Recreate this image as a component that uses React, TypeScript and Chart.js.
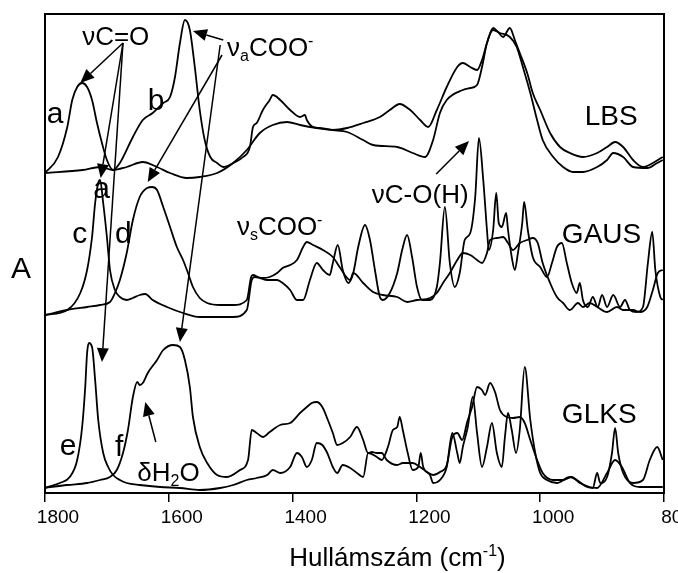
import React, { useEffect, useRef } from 'react';
import { Chart, registerables } from 'chart.js';

Chart.register(...registerables);

const FONT = '"Liberation Sans", Arial, Helvetica, sans-serif';

// x axis (wavenumber, cm-1), reversed
const xTickValues = [1800, 1600, 1400, 1200, 1000, 800];
const yTitleText = 'A';
const xTitleParts: [string, 'n' | 'sub' | 'sup'][] = [['Hullámszám (cm', 'n'], ['-1', 'sup'], [')', 'n']];

// LBS spectra (top)
const lbsA: [number, number][] = [
  [1800, 3.2], [1779, 3.36], [1764, 3.66], [1756, 3.93], [1748, 4.06], [1740, 4.1], [1732, 4.06], [1724, 3.93], [1716, 3.7], [1708, 3.5],
  [1700, 3.33], [1690, 3.23], [1668, 3.26], [1642, 3.31], [1619, 3.26], [1598, 3.2], [1571, 3.15], [1550, 3.16], [1522, 3.2], [1496, 3.3],
  [1474, 3.43], [1453, 3.6], [1432, 3.68], [1409, 3.71], [1388, 3.68], [1361, 3.65], [1335, 3.63], [1312, 3.65], [1286, 3.7], [1259, 3.76],
  [1243, 3.83], [1227, 3.89], [1210, 3.83], [1194, 3.73], [1181, 3.66], [1167, 3.83], [1151, 4.06], [1134, 4.26], [1125, 4.3], [1113, 4.26],
  [1102, 4.23], [1094, 4.33], [1086, 4.5], [1076, 4.65], [1068, 4.61], [1060, 4.56], [1049, 4.65], [1041, 4.53], [1033, 4.4], [1021, 4.2],
  [1012, 4.0], [1000, 3.83], [984, 3.6], [968, 3.46], [952, 3.4], [931, 3.36], [908, 3.4], [892, 3.46], [879, 3.51], [866, 3.46],
  [850, 3.33], [834, 3.26], [818, 3.3], [802, 3.36],
];
const lbsB: [number, number][] = [
  [1800, 3.2], [1739, 3.23], [1711, 3.26], [1690, 3.23], [1679, 3.3], [1658, 3.56], [1642, 3.73], [1626, 3.8], [1609, 3.9], [1598, 3.96],
  [1590, 4.16], [1582, 4.5], [1574, 4.73], [1566, 4.63], [1558, 4.26], [1550, 3.83], [1542, 3.53], [1533, 3.36], [1522, 3.3], [1512, 3.26],
  [1496, 3.3], [1480, 3.36], [1469, 3.46], [1464, 3.66], [1458, 3.7], [1448, 3.83], [1437, 3.93], [1432, 3.98], [1420, 3.93], [1404, 3.83],
  [1388, 3.76], [1380, 3.78], [1377, 3.73], [1367, 3.66], [1356, 3.65], [1335, 3.63], [1312, 3.61], [1286, 3.53], [1270, 3.48], [1231, 3.46],
  [1206, 3.4], [1186, 3.36], [1173, 3.53], [1162, 3.8], [1151, 3.93], [1125, 4.03], [1113, 4.05], [1102, 4.08], [1094, 4.26], [1086, 4.5],
  [1076, 4.63], [1065, 4.6], [1049, 4.56], [1038, 4.46], [1028, 4.26], [1016, 4.0], [1005, 3.73], [996, 3.53], [979, 3.36], [963, 3.26],
  [947, 3.21], [931, 3.21], [908, 3.26], [892, 3.33], [882, 3.4], [866, 3.36], [850, 3.26], [827, 3.25], [811, 3.3], [802, 3.33],
];

// GAUS spectra (middle)
const gausC: [number, number][] = [
  [1800, 1.78], [1764, 1.83], [1743, 2.0], [1732, 2.23], [1724, 2.56], [1719, 2.9], [1714, 3.1], [1711, 3.13], [1706, 2.9], [1700, 2.56],
  [1695, 2.23], [1687, 2.03], [1679, 1.96], [1668, 1.93], [1658, 1.95], [1647, 1.98], [1638, 1.99], [1626, 1.93], [1603, 1.86], [1577, 1.8],
  [1550, 1.76], [1522, 1.76], [1496, 1.76], [1474, 1.83], [1466, 2.13], [1461, 2.16], [1453, 2.15], [1441, 2.13], [1425, 2.13], [1416, 2.1],
  [1404, 2.03], [1393, 1.93], [1383, 1.93], [1372, 2.13], [1361, 2.3], [1351, 2.23], [1340, 2.18], [1335, 2.3], [1327, 2.48], [1319, 2.23],
  [1310, 2.1], [1302, 2.2], [1294, 2.46], [1283, 2.68], [1275, 2.53], [1267, 2.23], [1259, 1.96], [1254, 1.93], [1243, 2.0], [1231, 2.2],
  [1223, 2.43], [1215, 2.58], [1207, 2.36], [1199, 2.06], [1191, 1.93], [1178, 1.93], [1167, 2.06], [1162, 2.3], [1154, 2.86], [1146, 2.3],
  [1138, 2.06], [1130, 2.2], [1122, 2.53], [1113, 2.6], [1105, 2.96], [1099, 3.55], [1092, 3.13], [1086, 2.63], [1083, 2.43], [1076, 2.63],
  [1071, 3.0], [1067, 2.7], [1062, 2.66], [1055, 2.8], [1052, 2.63], [1046, 2.36], [1041, 2.23], [1036, 2.4], [1029, 2.7], [1026, 2.91],
  [1020, 2.63], [1012, 2.36], [1000, 2.26], [989, 2.16], [981, 2.3], [973, 2.46], [965, 2.5], [957, 2.3], [949, 2.1], [941, 2.0],
  [936, 2.1], [931, 1.93], [923, 1.86], [915, 1.96], [907, 1.86], [900, 1.98], [892, 1.86], [882, 1.98], [871, 1.86], [863, 1.93],
  [855, 1.83], [844, 1.81], [834, 1.86], [826, 2.3], [819, 2.61], [814, 2.23], [806, 1.96], [802, 1.93],
];
const gausD: [number, number][] = [
  [1800, 1.78], [1764, 1.83], [1732, 1.86], [1711, 1.88], [1695, 1.91], [1687, 2.0], [1679, 2.13], [1668, 2.4], [1658, 2.73], [1647, 2.96],
  [1635, 3.05], [1627, 3.06], [1619, 3.03], [1609, 2.86], [1598, 2.66], [1587, 2.46], [1577, 2.33], [1569, 2.2], [1561, 2.06], [1550, 1.95],
  [1538, 1.9], [1517, 1.88], [1496, 1.88], [1474, 1.93], [1467, 2.16], [1464, 2.18], [1456, 2.16], [1448, 2.15], [1437, 2.16], [1425, 2.2],
  [1416, 2.25], [1404, 2.28], [1393, 2.33], [1383, 2.46], [1377, 2.51], [1367, 2.48], [1351, 2.43], [1335, 2.36], [1323, 2.25], [1307, 2.13],
  [1302, 2.2], [1286, 2.1], [1270, 2.01], [1254, 1.98], [1231, 1.96], [1215, 1.91], [1199, 1.93], [1178, 1.95], [1167, 2.0], [1157, 2.1],
  [1146, 2.2], [1134, 2.33], [1125, 2.4], [1113, 2.38], [1102, 2.33], [1094, 2.3], [1086, 2.4], [1081, 2.53], [1070, 2.55], [1060, 2.56],
  [1052, 2.5], [1044, 2.43], [1033, 2.5], [1021, 2.53], [1012, 2.55], [1004, 2.5], [996, 2.3], [984, 2.1], [973, 1.96], [963, 1.9],
  [952, 1.83], [939, 1.9], [931, 1.86], [920, 1.9], [908, 1.86], [892, 1.81], [876, 1.86], [866, 1.83], [850, 1.83], [839, 1.81],
  [827, 1.86], [818, 2.03], [810, 2.2], [802, 2.23],
];

// GLKS spectra (bottom)
const glksE: [number, number][] = [
  [1800, 0.05], [1776, 0.1], [1760, 0.16], [1748, 0.33], [1740, 0.66], [1735, 1.06], [1732, 1.4], [1729, 1.5], [1724, 1.46], [1719, 1.13],
  [1714, 0.73], [1706, 0.4], [1698, 0.26], [1690, 0.18], [1679, 0.13], [1668, 0.1], [1647, 0.08], [1614, 0.06], [1582, 0.05], [1550, 0.03],
  [1517, 0.05], [1496, 0.08], [1474, 0.13], [1458, 0.15], [1441, 0.18], [1432, 0.23], [1420, 0.2], [1404, 0.26], [1393, 0.4], [1385, 0.36],
  [1377, 0.26], [1369, 0.33], [1361, 0.5], [1352, 0.48], [1344, 0.4], [1335, 0.26], [1328, 0.2], [1319, 0.28], [1307, 0.25], [1296, 0.2],
  [1286, 0.16], [1278, 0.4], [1264, 0.36], [1256, 0.33], [1246, 0.46], [1238, 0.63], [1231, 0.66], [1227, 0.76], [1222, 0.63], [1214, 0.4],
  [1206, 0.23], [1197, 0.26], [1193, 0.4], [1189, 0.26], [1178, 0.18], [1173, 0.1], [1162, 0.13], [1151, 0.26], [1142, 0.6], [1134, 0.4],
  [1130, 0.3], [1125, 0.46], [1117, 0.66], [1109, 0.96], [1102, 0.6], [1094, 0.26], [1086, 0.46], [1078, 0.7], [1070, 0.4], [1062, 0.26],
  [1057, 0.56], [1052, 0.8], [1046, 0.63], [1039, 0.4], [1033, 0.63], [1025, 1.26], [1016, 0.73], [1008, 0.4], [1000, 0.2], [989, 0.13],
  [973, 0.1], [952, 0.16], [941, 0.13], [924, 0.06], [915, 0.05], [908, 0.2], [903, 0.1], [892, 0.16], [884, 0.4], [879, 0.65],
  [874, 0.4], [866, 0.2], [850, 0.1], [834, 0.13], [823, 0.33], [811, 0.46], [802, 0.33],
];
const glksF: [number, number][] = [
  [1800, 0.05], [1764, 0.08], [1732, 0.1], [1711, 0.13], [1695, 0.16], [1684, 0.23], [1674, 0.4], [1666, 0.63], [1658, 0.96], [1651, 1.11],
  [1647, 1.08], [1642, 1.1], [1634, 1.2], [1619, 1.33], [1609, 1.43], [1593, 1.48], [1582, 1.46], [1574, 1.33], [1566, 1.06], [1561, 0.76],
  [1550, 0.46], [1538, 0.3], [1522, 0.18], [1506, 0.16], [1485, 0.23], [1472, 0.33], [1466, 0.63], [1458, 0.6], [1448, 0.56], [1437, 0.61],
  [1420, 0.68], [1404, 0.7], [1388, 0.8], [1377, 0.86], [1369, 0.9], [1361, 0.91], [1352, 0.86], [1343, 0.73], [1335, 0.6], [1328, 0.48],
  [1319, 0.5], [1307, 0.56], [1296, 0.66], [1286, 0.53], [1278, 0.4], [1272, 0.41], [1264, 0.4], [1256, 0.4], [1248, 0.33], [1231, 0.28],
  [1222, 0.3], [1206, 0.3], [1194, 0.26], [1183, 0.21], [1173, 0.18], [1162, 0.21], [1151, 0.28], [1142, 0.56], [1134, 0.6], [1126, 0.53],
  [1118, 0.71], [1110, 0.86], [1102, 1.06], [1094, 1.03], [1089, 0.98], [1081, 1.1], [1073, 1.01], [1065, 0.83], [1054, 0.76], [1044, 0.75],
  [1033, 0.76], [1025, 0.7], [1016, 0.53], [1005, 0.33], [996, 0.2], [979, 0.13], [963, 0.13], [949, 0.16], [936, 0.1], [920, 0.06],
  [908, 0.05], [892, 0.2], [879, 0.33], [868, 0.26], [855, 0.1], [839, 0.06], [823, 0.06], [802, 0.06],
];

const seriesList = [lbsA, lbsB, gausC, gausD, glksE, glksF];

// annotation texts: parts, anchor (wavenumber, absorbance) = left / baseline
type Part = [string, 'n' | 'sub' | 'sup'];
const textNotes: { parts: Part[]; wn: number; a: number; size: number }[] = [
  { parts: [['νC=O', 'n']], wn: 1740, a: 4.48, size: 26 },
  { parts: [['ν', 'n'], ['a', 'sub'], ['COO', 'n'], ['-', 'sup']], wn: 1506, a: 4.37, size: 26 },
  { parts: [['a', 'n']], wn: 1797, a: 3.7, size: 30 },
  { parts: [['b', 'n']], wn: 1634, a: 3.83, size: 30 },
  { parts: [['LBS', 'n']], wn: 928, a: 3.68, size: 28 },
  { parts: [['νC-O(H)', 'n']], wn: 1272, a: 2.9, size: 26 },
  { parts: [['a', 'n']], wn: 1722, a: 2.95, size: 30 },
  { parts: [['c', 'n']], wn: 1756, a: 2.5, size: 30 },
  { parts: [['d', 'n']], wn: 1687, a: 2.5, size: 30 },
  { parts: [['ν', 'n'], ['s', 'sub'], ['COO', 'n'], ['-', 'sup']], wn: 1490, a: 2.58, size: 26 },
  { parts: [['GAUS', 'n']], wn: 965, a: 2.5, size: 28 },
  { parts: [['e', 'n']], wn: 1776, a: 0.38, size: 30 },
  { parts: [['f', 'n']], wn: 1687, a: 0.37, size: 30 },
  { parts: [['δH', 'n'], ['2', 'sub'], ['O', 'n']], wn: 1651, a: 0.12, size: 26 },
  { parts: [['GLKS', 'n']], wn: 965, a: 0.7, size: 28 },
];

// arrows: from -> to (wavenumber, absorbance)
const arrowNotes: { from: [number, number]; to: [number, number] }[] = [
  { from: [1674, 4.5], to: [1743, 4.1] },
  { from: [1674, 4.5], to: [1710, 3.15] },
  { from: [1674, 4.5], to: [1708, 1.31] },
  { from: [1512, 4.53], to: [1561, 4.62] },
  { from: [1514, 4.38], to: [1634, 3.11] },
  { from: [1517, 4.48], to: [1582, 1.51] },
  { from: [1168, 3.19], to: [1115, 3.52] },
  { from: [1621, 0.51], to: [1638, 0.91] },
];

function drawRich(ctx: CanvasRenderingContext2D, parts: Part[], x: number, y: number, size: number, align: 'left' | 'center' = 'left') {
  const small = Math.round(size * 0.62);
  const widths = parts.map(([t, k]) => {
    ctx.font = `${k === 'n' ? size : small}px ${FONT}`;
    return ctx.measureText(t).width;
  });
  const total = widths.reduce((s, w) => s + w, 0);
  let cx = align === 'center' ? x - total / 2 : x;
  ctx.textAlign = 'left';
  ctx.textBaseline = 'alphabetic';
  parts.forEach(([t, k], i) => {
    ctx.font = `${k === 'n' ? size : small}px ${FONT}`;
    const dy = k === 'sub' ? size * 0.2 : k === 'sup' ? -size * 0.4 : 0;
    ctx.fillText(t, cx, y + dy);
    cx += widths[i];
  });
}

function drawArrow(ctx: CanvasRenderingContext2D, x1: number, y1: number, x2: number, y2: number) {
  const ang = Math.atan2(y2 - y1, x2 - x1);
  const hl = 14;
  const hw = 6;
  const bx = x2 - hl * Math.cos(ang);
  const by = y2 - hl * Math.sin(ang);
  ctx.beginPath();
  ctx.moveTo(x1, y1);
  ctx.lineTo(bx, by);
  ctx.stroke();
  ctx.beginPath();
  ctx.moveTo(x2, y2);
  ctx.lineTo(bx + hw * Math.sin(ang), by - hw * Math.cos(ang));
  ctx.lineTo(bx - hw * Math.sin(ang), by + hw * Math.cos(ang));
  ctx.closePath();
  ctx.fill();
}

const overlayPlugin = {
  id: 'overlay',
  afterDraw(chart: any) {
    const { ctx, chartArea, scales } = chart;
    const xs = scales.x;
    const ys = scales.y;
    const px = (w: number) => xs.getPixelForValue(w);
    const py = (v: number) => ys.getPixelForValue(v);
    ctx.save();
    ctx.strokeStyle = '#000';
    ctx.fillStyle = '#000';
    ctx.lineWidth = 2;
    ctx.strokeRect(chartArea.left, chartArea.top, chartArea.right - chartArea.left, chartArea.bottom - chartArea.top);
    ctx.lineWidth = 1.5;
    arrowNotes.forEach((ar) => drawArrow(ctx, px(ar.from[0]), py(ar.from[1]), px(ar.to[0]), py(ar.to[1])));
    textNotes.forEach((n) => drawRich(ctx, n.parts, px(n.wn), py(n.a), n.size));
    // y axis title
    ctx.font = `30px ${FONT}`;
    ctx.textAlign = 'center';
    ctx.textBaseline = 'alphabetic';
    ctx.fillText(yTitleText, chartArea.left - 24, (chartArea.top + chartArea.bottom) / 2 + 24);
    // x axis title
    drawRich(ctx, xTitleParts, (chartArea.left + chartArea.right) / 2 + 43, chart.height - 7, 26, 'center');
    ctx.restore();
  },
};

export default function App() {
  const ref = useRef<HTMLCanvasElement>(null);
  useEffect(() => {
    if (!ref.current) return;
    const chart = new Chart(ref.current, {
      type: 'line',
      data: {
        datasets: seriesList.map((s) => ({
          data: s.map(([w, a]) => ({ x: w, y: a })),
          borderColor: '#000',
          borderWidth: 1.8,
          pointRadius: 0,
          fill: false,
          cubicInterpolationMode: 'monotone' as const,
        })),
      },
      options: {
        animation: false,
        responsive: true,
        maintainAspectRatio: false,
        layout: { padding: { top: 14, right: 14, left: 0, bottom: 0 } },
        plugins: { legend: { display: false }, tooltip: { enabled: false } },
        scales: {
          x: {
            type: 'linear',
            reverse: true,
            min: 800,
            max: 1800,
            afterBuildTicks: (s: any) => {
              s.ticks = xTickValues.map((v) => ({ value: v }));
            },
            afterFit: (s: any) => {
              s.height = 80;
              s.paddingLeft = 0;
              s.paddingRight = 0;
            },
            grid: { display: true, drawOnChartArea: false, drawTicks: true, tickLength: 9, color: '#000', lineWidth: 1.5 },
            border: { display: true, color: '#000', width: 2 },
            ticks: {
              color: '#000',
              font: { family: FONT, size: 19 },
              padding: 4,
              labelOffset: 13,
              maxRotation: 0,
              autoSkip: false,
              callback: (v: any) => String(v),
            },
          },
          y: {
            min: 0,
            max: 4.79,
            afterFit: (s: any) => {
              s.width = 45;
            },
            ticks: { display: false },
            grid: { display: false },
            border: { display: false },
          },
        },
      },
      plugins: [overlayPlugin],
    });
    return () => chart.destroy();
  }, []);
  return (
    <div style={{ position: 'fixed', left: 0, top: 0, width: 678, height: 573, background: '#fff' }}>
      <canvas ref={ref} />
    </div>
  );
}
